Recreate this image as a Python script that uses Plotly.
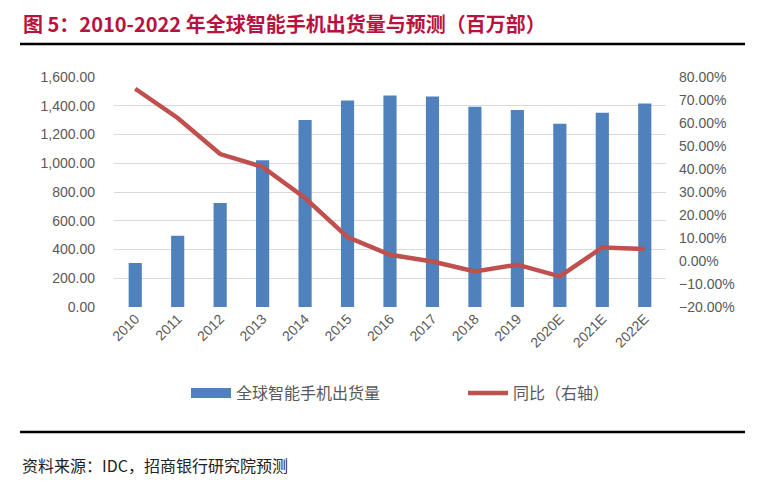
import plotly.graph_objects as go

categories = ["2010", "2011", "2012", "2013", "2014", "2015", "2016",
              "2017", "2018", "2019", "2020E", "2021E", "2022E"]
shipments = [306, 496, 723, 1020, 1301, 1437, 1472, 1465, 1393, 1370, 1275, 1352, 1416]
yoy = [0.749, 0.622, 0.465, 0.409, 0.274, 0.104, 0.027, -0.002, -0.045, -0.016, -0.067, 0.059, 0.052]

bar_name = "全球智能手机出货量"
line_name = "同比（右轴）"
title_text = "图 5：2010-2022 年全球智能手机出货量与预测（百万部）"
source_text = "资料来源：IDC，招商银行研究院预测"

axis_font = dict(family="Liberation Sans, Arial, sans-serif", size=14, color="#595959")
cjk = "Noto Sans CJK SC"
bar_color = "#4F81BD"

# page body has an 8px margin, so the figure is drawn 8px smaller and offset
OFF = 8
W, H = 765 - OFF, 487 - OFF
L, R, T, B = 114 - OFF, 765 - 666, 77 - OFF, 487 - 307
PW, PH = W - L - R, H - T - B


def px(x):
    return (x - OFF - L) / PW


def py(y):
    return (H - B - (y - OFF)) / PH


def cx(x):
    return (x - OFF) / W


def cy(y):
    return (H - (y - OFF)) / H


fig = go.Figure()
fig.add_trace(go.Bar(x=categories, y=shipments, name=bar_name, showlegend=False,
                     marker=dict(color=bar_color, line=dict(width=0)), yaxis="y"))
# legend-only entry drawn as a wide rectangle like the reference legend key
fig.add_trace(go.Scatter(x=[None], y=[None], name=bar_name, mode="lines",
                         line=dict(color=bar_color, width=10), yaxis="y"))
fig.add_trace(go.Scatter(x=categories, y=yoy, name=line_name, mode="lines",
                         line=dict(color="#C0504D", width=4.5), yaxis="y2"))

fig.update_layout(
    width=W, height=H,
    margin=dict(l=L, r=R, t=T, b=B, autoexpand=False),
    paper_bgcolor="white", plot_bgcolor="white",
    bargap=0.69,
    xaxis=dict(type="category", tickangle=-45, tickfont=axis_font,
               showline=False, showgrid=False, ticks="", automargin=False),
    yaxis=dict(range=[0, 1600], dtick=200, tickformat=",.2f", tickfont=axis_font,
               showgrid=True, gridcolor="#D9D9D9", gridwidth=1, zeroline=False,
               showline=False, ticks="", ticklabelstandoff=18, automargin=False),
    yaxis2=dict(range=[-0.2, 0.8], dtick=0.1, tickformat=".2%", tickfont=axis_font,
                overlaying="y", side="right", showgrid=False, zeroline=False,
                showline=False, ticks="", ticklabelstandoff=12, automargin=False),
    legend=dict(orientation="h", xref="container", yref="container",
                x=cx(186), xanchor="left", y=cy(393), yanchor="middle",
                font=dict(family=cjk, size=16, color="#595959"),
                itemwidth=40, entrywidth=222, entrywidthmode="pixels", traceorder="normal"),
    showlegend=True,
)

fig.add_annotation(text="<b>" + title_text + "</b>", xref="paper", yref="paper",
                   x=px(22), y=py(OFF), xanchor="left", yanchor="top", borderpad=0,
                   showarrow=False, font=dict(family=cjk, size=20, color="#B8123E"))
fig.add_annotation(text=source_text, xref="paper", yref="paper",
                   x=px(20), y=py(465), xanchor="left", yanchor="middle",
                   showarrow=False, font=dict(family=cjk, size=16, color="#222222"))
for yy in (44, 432):
    fig.add_shape(type="line", xref="paper", yref="paper",
                  x0=px(20), x1=px(745), y0=py(yy), y1=py(yy),
                  line=dict(color="black", width=2.5))

fig.write_html("out.html")
